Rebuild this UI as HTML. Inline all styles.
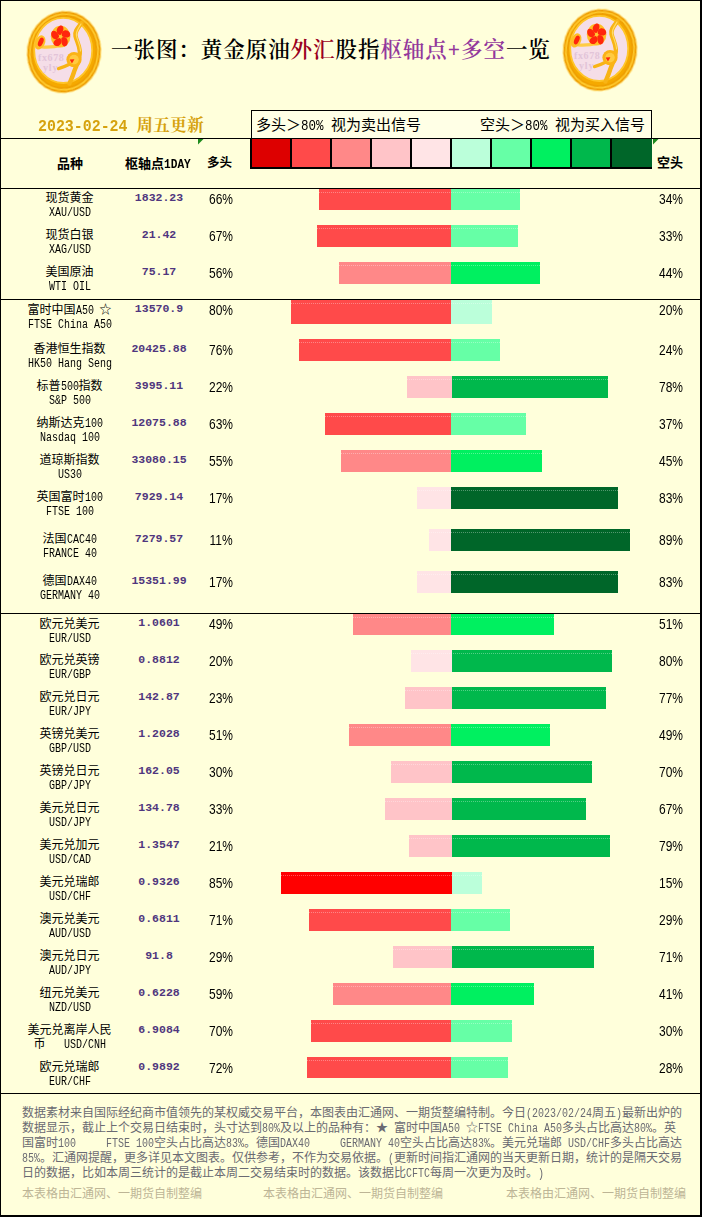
<!DOCTYPE html>
<html lang="zh-CN"><head><meta charset="utf-8"><title>一张图：黄金原油外汇股指枢轴点+多空一览</title>
<style>
html,body{margin:0;padding:0}
body{width:702px;height:1217px;position:relative;background:#FFFFDB;overflow:hidden;font-family:"Liberation Sans","Noto Sans CJK SC",sans-serif;color:#000}
div,span{box-sizing:border-box}
.a{position:absolute;white-space:nowrap}
.hl{position:absolute;left:0;width:702px;height:1px;background:#000}
.bar{position:absolute}
.dot{position:absolute;height:1px;background-image:repeating-linear-gradient(90deg,rgba(255,255,255,.32) 0 1px,transparent 1px 2px)}
.nm{position:absolute;left:0;width:139px;text-align:center;font:12px/12px "Liberation Mono","Noto Sans CJK SC",sans-serif;white-space:nowrap}
.L{display:inline-block;white-space:nowrap;text-align:left;vertical-align:baseline}
.L>span{display:inline-block;transform-origin:0 50%;font-family:"Liberation Mono",monospace;white-space:pre}
.en{position:absolute;left:0;width:139px;text-align:center;font:12px/12px "Liberation Mono","Noto Sans CJK SC",monospace;white-space:nowrap}
.pv{position:absolute;left:109px;width:100px;text-align:center;font:bold 11.5px/12px "Liberation Mono",monospace;color:#4F367E;white-space:nowrap}
.pc{position:absolute;width:60px;text-align:center;font:15px/16px "Liberation Sans",sans-serif;transform:scaleX(.8);white-space:nowrap}
.ft{position:absolute;left:22px;font:12px/14.5px "Liberation Mono","Noto Sans CJK SC",sans-serif;color:#6A6A72;white-space:nowrap;transform-origin:0 0}
.ft2{position:absolute;font:12px/14px "Liberation Mono","Noto Sans CJK SC",sans-serif;color:#BDB596;white-space:nowrap}
</style></head>
<body>
<div class="hl" style="top:138px"></div>
<div class="hl" style="top:188px"></div>
<div class="hl" style="top:299px"></div>
<div class="hl" style="top:613px"></div>
<div class="hl" style="top:1093px"></div>
<div class="a" style="left:0;top:0;width:702px;height:1px;background:#000"></div>
<div class="a" style="left:0;top:0;width:1px;height:1217px;background:#000"></div>
<div class="a" style="left:700px;top:0;width:2px;height:1217px;background:#000"></div>
<div class="a" style="left:0;top:1215px;width:702px;height:2px;background:#000"></div>
<svg class="a" style="left:22px;top:6.4px" width="84" height="92" viewBox="-42 -46 84 92">
<defs><filter id="b64" x="-10%" y="-10%" width="120%" height="120%"><feGaussianBlur stdDeviation="0.7"/></filter></defs>
<g filter="url(#b64)" transform="rotate(8)">
<ellipse cx="0" cy="0" rx="37.5" ry="41.5" fill="#FFE27A"/>
<ellipse cx="0" cy="0" rx="36.5" ry="40.5" fill="#EE9E00"/>
<ellipse cx="0" cy="0" rx="34" ry="38" fill="none" stroke="#FFCB2E" stroke-width="1.6"/>
<ellipse cx="0" cy="0" rx="31.5" ry="35.5" fill="#F5A906"/>
</g>
<g filter="url(#b64)">
<ellipse cx="-0.8" cy="-1.6" rx="29" ry="32.6" fill="#F5DEE8"/>
<ellipse cx="-0.8" cy="-1.6" rx="29" ry="32.6" fill="none" stroke="#FFC62A" stroke-width="1.8"/>
<path d="M17.5 -29 C14 -24 10.5 -21 11.5 -16 C12.5 -11 15 -8 15.8 -1 C16.5 7 12 14 10 20 C8.5 25 7 28 5.5 31.5" fill="none" stroke="#F8B414" stroke-width="4.4" stroke-linecap="round"/>
<path d="M17 -28 C14 -23 11.5 -20 12.5 -16 C13.5 -11 16 -8 16.6 -1" fill="none" stroke="#FFDC66" stroke-width="1.2" stroke-linecap="round"/>
<path d="M-5.5 16.6 C-1 15.5 2 14 6 12" fill="none" stroke="#F8B414" stroke-width="3.2" stroke-linecap="round"/>
<path d="M-22 -5 C-16 -4.5 -9 -5 -1 -7" fill="none" stroke="#FFCC44" stroke-width="3.2" stroke-linecap="round"/>
<ellipse cx="-3.4" cy="-15.4" rx="9.8" ry="10.9" fill="#FFBE28"/>
<g fill="#FF260A" transform="translate(-3.4 -15.4) scale(0.8 0.9)"><path d="M-0.3 -1.6 C-6 -2.6 -6.6 -10 -1.6 -11 C3.2 -11.6 4.6 -5.6 -0.3 -1.6Z" transform="rotate(-80) scale(1.1) skewX(-12)"/><path d="M-0.3 -1.6 C-6 -2.6 -6.6 -10 -1.6 -11 C3.2 -11.6 4.6 -5.6 -0.3 -1.6Z" transform="rotate(-8) scale(1.1) skewX(-12)"/><path d="M-0.3 -1.6 C-6 -2.6 -6.6 -10 -1.6 -11 C3.2 -11.6 4.6 -5.6 -0.3 -1.6Z" transform="rotate(64) scale(1.1) skewX(-12)"/><path d="M-0.3 -1.6 C-6 -2.6 -6.6 -10 -1.6 -11 C3.2 -11.6 4.6 -5.6 -0.3 -1.6Z" transform="rotate(136) scale(1.1) skewX(-12)"/><path d="M-0.3 -1.6 C-6 -2.6 -6.6 -10 -1.6 -11 C3.2 -11.6 4.6 -5.6 -0.3 -1.6Z" transform="rotate(208) scale(1.1) skewX(-12)"/></g>
<circle cx="-3.4" cy="-15.4" r="1.5" fill="#FFC83C"/>
<ellipse cx="-23.8" cy="-9.4" rx="5" ry="7.4" fill="#FFBE28" transform="rotate(24 -23.4 -10)"/>
<ellipse cx="-23.2" cy="-10" rx="2.4" ry="4.6" fill="#FF260A" transform="rotate(24 -23.2 -10)"/>
<circle cx="10" cy="7.6" r="7.6" fill="#FBB313"/>
<circle cx="10" cy="7.6" r="4.8" fill="#FFCB40"/>
<path d="M5.6 7.4 L10.4 7.2 L8 11.6 Z" fill="#FF260A"/>
</g>
<text x="-26" y="9" font-family="Liberation Serif,serif" font-weight="bold" font-size="10" fill="#E2C4D8" letter-spacing="0.6">fx678</text>
<text x="-21" y="18.5" font-family="Liberation Serif,serif" font-weight="bold" font-size="10" fill="#E2C4D8" letter-spacing="0.8">yly</text>
</svg>
<svg class="a" style="left:558px;top:4.4px" width="84" height="92" viewBox="-42 -46 84 92">
<defs><filter id="b600" x="-10%" y="-10%" width="120%" height="120%"><feGaussianBlur stdDeviation="0.7"/></filter></defs>
<g filter="url(#b600)" transform="rotate(8)">
<ellipse cx="0" cy="0" rx="37.5" ry="41.5" fill="#FFE27A"/>
<ellipse cx="0" cy="0" rx="36.5" ry="40.5" fill="#EE9E00"/>
<ellipse cx="0" cy="0" rx="34" ry="38" fill="none" stroke="#FFCB2E" stroke-width="1.6"/>
<ellipse cx="0" cy="0" rx="31.5" ry="35.5" fill="#F5A906"/>
</g>
<g filter="url(#b600)">
<ellipse cx="-0.8" cy="-1.6" rx="29" ry="32.6" fill="#F5DEE8"/>
<ellipse cx="-0.8" cy="-1.6" rx="29" ry="32.6" fill="none" stroke="#FFC62A" stroke-width="1.8"/>
<path d="M17.5 -29 C14 -24 10.5 -21 11.5 -16 C12.5 -11 15 -8 15.8 -1 C16.5 7 12 14 10 20 C8.5 25 7 28 5.5 31.5" fill="none" stroke="#F8B414" stroke-width="4.4" stroke-linecap="round"/>
<path d="M17 -28 C14 -23 11.5 -20 12.5 -16 C13.5 -11 16 -8 16.6 -1" fill="none" stroke="#FFDC66" stroke-width="1.2" stroke-linecap="round"/>
<path d="M-5.5 16.6 C-1 15.5 2 14 6 12" fill="none" stroke="#F8B414" stroke-width="3.2" stroke-linecap="round"/>
<path d="M-22 -5 C-16 -4.5 -9 -5 -1 -7" fill="none" stroke="#FFCC44" stroke-width="3.2" stroke-linecap="round"/>
<ellipse cx="-3.4" cy="-15.4" rx="9.8" ry="10.9" fill="#FFBE28"/>
<g fill="#FF260A" transform="translate(-3.4 -15.4) scale(0.8 0.9)"><path d="M-0.3 -1.6 C-6 -2.6 -6.6 -10 -1.6 -11 C3.2 -11.6 4.6 -5.6 -0.3 -1.6Z" transform="rotate(-80) scale(1.1) skewX(-12)"/><path d="M-0.3 -1.6 C-6 -2.6 -6.6 -10 -1.6 -11 C3.2 -11.6 4.6 -5.6 -0.3 -1.6Z" transform="rotate(-8) scale(1.1) skewX(-12)"/><path d="M-0.3 -1.6 C-6 -2.6 -6.6 -10 -1.6 -11 C3.2 -11.6 4.6 -5.6 -0.3 -1.6Z" transform="rotate(64) scale(1.1) skewX(-12)"/><path d="M-0.3 -1.6 C-6 -2.6 -6.6 -10 -1.6 -11 C3.2 -11.6 4.6 -5.6 -0.3 -1.6Z" transform="rotate(136) scale(1.1) skewX(-12)"/><path d="M-0.3 -1.6 C-6 -2.6 -6.6 -10 -1.6 -11 C3.2 -11.6 4.6 -5.6 -0.3 -1.6Z" transform="rotate(208) scale(1.1) skewX(-12)"/></g>
<circle cx="-3.4" cy="-15.4" r="1.5" fill="#FFC83C"/>
<ellipse cx="-23.8" cy="-9.4" rx="5" ry="7.4" fill="#FFBE28" transform="rotate(24 -23.4 -10)"/>
<ellipse cx="-23.2" cy="-10" rx="2.4" ry="4.6" fill="#FF260A" transform="rotate(24 -23.2 -10)"/>
<circle cx="10" cy="7.6" r="7.6" fill="#FBB313"/>
<circle cx="10" cy="7.6" r="4.8" fill="#FFCB40"/>
<path d="M5.6 7.4 L10.4 7.2 L8 11.6 Z" fill="#FF260A"/>
</g>
<text x="-26" y="9" font-family="Liberation Serif,serif" font-weight="bold" font-size="10" fill="#E2C4D8" letter-spacing="0.6">fx678</text>
<text x="-21" y="18.5" font-family="Liberation Serif,serif" font-weight="bold" font-size="10" fill="#E2C4D8" letter-spacing="0.8">yly</text>
</svg>
<div class="a" style="left:111px;top:33.5px;font:600 21.5px/32px 'Liberation Serif','Noto Serif CJK SC',serif;letter-spacing:0.95px" id="title">一张图：黄金原油<span style="color:#9A0020">外汇</span>股指<span style="color:#93389C">枢轴点+多空</span>一览</div>
<div class="a" id="date" style="left:38px;top:116px;font:bold 16.5px/22px 'Liberation Mono','Noto Serif CJK SC',serif;color:#D6A20E"><span class="L" style="width:98.45px"><span style="font-size:17px;transform:scaleX(0.8775);font-weight:bold">2023-02-24 </span></span><span style="letter-spacing:.4px">周五更新</span></div>
<div class="a" style="left:251px;top:110px;width:401px;height:29px;border:1px solid #000;background:#FFFFE6"></div>
<div class="a" id="lg1" style="left:256px;top:116px;font:15px/18px 'Liberation Sans','Noto Sans CJK SC',sans-serif">多头＞<span class="L" style="width:30px"><span style="font-size:14px;transform:scaleX(0.8929);">80% </span></span>视为卖出信号</div>
<div class="a" id="lg2" style="left:480px;top:116px;font:15px/18px 'Liberation Sans','Noto Sans CJK SC',sans-serif">空头＞<span class="L" style="width:30px"><span style="font-size:14px;transform:scaleX(0.8929);">80% </span></span>视为买入信号</div>
<div class="a" style="left:250px;top:138px;width:402px;height:31px;background:#000"></div>
<div class="a" style="left:252px;top:139px;width:38px;height:28px;background:#DD0000"></div>
<div class="a" style="left:292px;top:139px;width:38px;height:28px;background:#FF4A4A"></div>
<div class="a" style="left:332px;top:139px;width:38px;height:28px;background:#FF8888"></div>
<div class="a" style="left:372px;top:139px;width:38px;height:28px;background:#FFC4C8"></div>
<div class="a" style="left:412px;top:139px;width:38px;height:28px;background:#FFE4E6"></div>
<div class="a" style="left:452px;top:139px;width:38px;height:28px;background:#BBFFDA"></div>
<div class="a" style="left:492px;top:139px;width:38px;height:28px;background:#66FFA6"></div>
<div class="a" style="left:532px;top:139px;width:38px;height:28px;background:#00F060"></div>
<div class="a" style="left:572px;top:139px;width:38px;height:28px;background:#00B84C"></div>
<div class="a" style="left:612px;top:139px;width:40px;height:28px;background:#006629"></div>
<svg class="a" style="left:198px;top:139px" width="7" height="7"><path d="M0 0H5.5L0 5.5Z" fill="#1E8B1E"/></svg>
<svg class="a" style="left:653px;top:139px" width="7" height="7"><path d="M0 0H5.5L0 5.5Z" fill="#1E8B1E"/></svg>
<div class="a" id="h1" style="left:57px;top:157px;font:bold 13px/14px 'Liberation Serif','Noto Sans CJK SC',sans-serif">品种</div>
<div class="a" id="h2" style="left:125px;top:157px;font:bold 13px/14px 'Liberation Serif','Noto Sans CJK SC',sans-serif">枢轴点<span class="L" style="width:26.8px"><span style="font-size:13px;transform:scaleX(0.8590);font-weight:bold">1DAY</span></span></div>
<div class="a" id="h3" style="left:207px;top:156px;font:bold 12.5px/14px 'Liberation Sans','Noto Sans CJK SC',sans-serif">多头</div>
<div class="a" id="h4" style="left:657px;top:156px;font:bold 13px/14px 'Liberation Serif','Noto Sans CJK SC',sans-serif">空头</div>
<div class="bar" style="left:319px;top:189px;width:132px;height:21px;background:#FF4A4A"></div><div class="bar" style="left:451px;top:189px;width:69px;height:21px;background:#66FFA6"></div><div class="dot" style="left:319px;top:192px;width:201px"></div>
<div class="nm" style="top:193px">现货黄金</div><div class="en" style="top:207px"><span class="L" style="width:42px"><span style="font-size:13px;transform:scaleX(0.7692);">XAU/USD</span></span></div><div class="pv" style="top:192px">1832.23</div><div class="pc" style="left:190.5px;top:191px">66%</div><div class="pc" style="left:641px;top:191px">34%</div>
<div class="bar" style="left:317px;top:225px;width:134px;height:22px;background:#FF4A4A"></div><div class="bar" style="left:451px;top:225px;width:67px;height:22px;background:#66FFA6"></div><div class="dot" style="left:317px;top:228px;width:201px"></div>
<div class="nm" style="top:230px">现货白银</div><div class="en" style="top:244px"><span class="L" style="width:42px"><span style="font-size:13px;transform:scaleX(0.7692);">XAG/USD</span></span></div><div class="pv" style="top:229px">21.42</div><div class="pc" style="left:190.5px;top:228px">67%</div><div class="pc" style="left:641px;top:228px">33%</div>
<div class="bar" style="left:339px;top:262px;width:112px;height:22px;background:#FF8888"></div><div class="bar" style="left:451px;top:262px;width:89px;height:22px;background:#00F060"></div><div class="dot" style="left:339px;top:265px;width:201px"></div>
<div class="nm" style="top:267px">美国原油</div><div class="en" style="top:281px"><span class="L" style="width:42px"><span style="font-size:13px;transform:scaleX(0.7692);">WTI OIL</span></span></div><div class="pv" style="top:266px">75.17</div><div class="pc" style="left:190.5px;top:265px">56%</div><div class="pc" style="left:641px;top:265px">44%</div>
<div class="bar" style="left:291px;top:300px;width:160px;height:24px;background:#FF4A4A"></div><div class="bar" style="left:451px;top:300px;width:41px;height:24px;background:#BBFFDA"></div><div class="dot" style="left:291px;top:303px;width:201px"></div>
<div class="nm" style="top:305px">富时中国<span class="L" style="width:24px"><span style="font-size:13px;transform:scaleX(0.7692);">A50 </span></span>☆</div><div class="en" style="top:319px"><span class="L" style="width:84px"><span style="font-size:13px;transform:scaleX(0.7692);">FTSE China A50</span></span></div><div class="pv" style="top:303px">13570.9</div><div class="pc" style="left:190.5px;top:302px">80%</div><div class="pc" style="left:641px;top:302px">20%</div>
<div class="bar" style="left:299px;top:339px;width:152px;height:22px;background:#FF4A4A"></div><div class="bar" style="left:451px;top:339px;width:49px;height:22px;background:#66FFA6"></div><div class="dot" style="left:299px;top:342px;width:201px"></div>
<div class="nm" style="top:344px">香港恒生指数</div><div class="en" style="top:358px"><span class="L" style="width:84px"><span style="font-size:13px;transform:scaleX(0.7692);">HK50 Hang Seng</span></span></div><div class="pv" style="top:343px">20425.88</div><div class="pc" style="left:190.5px;top:342px">76%</div><div class="pc" style="left:641px;top:342px">24%</div>
<div class="bar" style="left:407px;top:376px;width:45px;height:22px;background:#FFC4C8"></div><div class="bar" style="left:452px;top:376px;width:156px;height:22px;background:#00B84C"></div><div class="dot" style="left:407px;top:379px;width:201px"></div>
<div class="nm" style="top:381px">标普<span class="L" style="width:18px"><span style="font-size:13px;transform:scaleX(0.7692);">500</span></span>指数</div><div class="en" style="top:395px"><span class="L" style="width:42px"><span style="font-size:13px;transform:scaleX(0.7692);">S&amp;P 500</span></span></div><div class="pv" style="top:380px">3995.11</div><div class="pc" style="left:190.5px;top:379px">22%</div><div class="pc" style="left:641px;top:379px">78%</div>
<div class="bar" style="left:325px;top:413px;width:126px;height:22px;background:#FF4A4A"></div><div class="bar" style="left:451px;top:413px;width:75px;height:22px;background:#66FFA6"></div><div class="dot" style="left:325px;top:416px;width:201px"></div>
<div class="nm" style="top:418px">纳斯达克<span class="L" style="width:18px"><span style="font-size:13px;transform:scaleX(0.7692);">100</span></span></div><div class="en" style="top:432px"><span class="L" style="width:60px"><span style="font-size:13px;transform:scaleX(0.7692);">Nasdaq 100</span></span></div><div class="pv" style="top:417px">12075.88</div><div class="pc" style="left:190.5px;top:416px">63%</div><div class="pc" style="left:641px;top:416px">37%</div>
<div class="bar" style="left:341px;top:450px;width:110px;height:22px;background:#FF8888"></div><div class="bar" style="left:451px;top:450px;width:91px;height:22px;background:#00F060"></div><div class="dot" style="left:341px;top:453px;width:201px"></div>
<div class="nm" style="top:455px">道琼斯指数</div><div class="en" style="top:469px"><span class="L" style="width:24px"><span style="font-size:13px;transform:scaleX(0.7692);">US30</span></span></div><div class="pv" style="top:454px">33080.15</div><div class="pc" style="left:190.5px;top:453px">55%</div><div class="pc" style="left:641px;top:453px">45%</div>
<div class="bar" style="left:417px;top:487px;width:34px;height:22px;background:#FFE4E6"></div><div class="bar" style="left:451px;top:487px;width:167px;height:22px;background:#006629"></div><div class="dot" style="left:417px;top:490px;width:201px"></div>
<div class="nm" style="top:492px">英国富时<span class="L" style="width:18px"><span style="font-size:13px;transform:scaleX(0.7692);">100</span></span></div><div class="en" style="top:506px"><span class="L" style="width:48px"><span style="font-size:13px;transform:scaleX(0.7692);">FTSE 100</span></span></div><div class="pv" style="top:491px">7929.14</div><div class="pc" style="left:190.5px;top:490px">17%</div><div class="pc" style="left:641px;top:490px">83%</div>
<div class="bar" style="left:429px;top:529px;width:22px;height:22px;background:#FFE4E6"></div><div class="bar" style="left:451px;top:529px;width:179px;height:22px;background:#006629"></div><div class="dot" style="left:429px;top:532px;width:201px"></div>
<div class="nm" style="top:534px">法国<span class="L" style="width:30px"><span style="font-size:13px;transform:scaleX(0.7692);">CAC40</span></span></div><div class="en" style="top:548px"><span class="L" style="width:54px"><span style="font-size:13px;transform:scaleX(0.7692);">FRANCE 40</span></span></div><div class="pv" style="top:533px">7279.57</div><div class="pc" style="left:190.5px;top:532px">11%</div><div class="pc" style="left:641px;top:532px">89%</div>
<div class="bar" style="left:417px;top:571px;width:34px;height:22px;background:#FFE4E6"></div><div class="bar" style="left:451px;top:571px;width:167px;height:22px;background:#006629"></div><div class="dot" style="left:417px;top:574px;width:201px"></div>
<div class="nm" style="top:576px">德国<span class="L" style="width:30px"><span style="font-size:13px;transform:scaleX(0.7692);">DAX40</span></span></div><div class="en" style="top:590px"><span class="L" style="width:60px"><span style="font-size:13px;transform:scaleX(0.7692);">GERMANY 40</span></span></div><div class="pv" style="top:575px">15351.99</div><div class="pc" style="left:190.5px;top:574px">17%</div><div class="pc" style="left:641px;top:574px">83%</div>
<div class="bar" style="left:353px;top:614px;width:98px;height:21px;background:#FF8888"></div><div class="bar" style="left:451px;top:614px;width:103px;height:21px;background:#00F060"></div><div class="dot" style="left:353px;top:617px;width:201px"></div>
<div class="nm" style="top:619px">欧元兑美元</div><div class="en" style="top:633px"><span class="L" style="width:42px"><span style="font-size:13px;transform:scaleX(0.7692);">EUR/USD</span></span></div><div class="pv" style="top:617px">1.0601</div><div class="pc" style="left:190.5px;top:616px">49%</div><div class="pc" style="left:641px;top:616px">51%</div>
<div class="bar" style="left:411px;top:650px;width:41px;height:22px;background:#FFE4E6"></div><div class="bar" style="left:452px;top:650px;width:160px;height:22px;background:#00B84C"></div><div class="dot" style="left:411px;top:653px;width:201px"></div>
<div class="nm" style="top:655px">欧元兑英镑</div><div class="en" style="top:669px"><span class="L" style="width:42px"><span style="font-size:13px;transform:scaleX(0.7692);">EUR/GBP</span></span></div><div class="pv" style="top:654px">0.8812</div><div class="pc" style="left:190.5px;top:653px">20%</div><div class="pc" style="left:641px;top:653px">80%</div>
<div class="bar" style="left:405px;top:687px;width:47px;height:22px;background:#FFC4C8"></div><div class="bar" style="left:452px;top:687px;width:154px;height:22px;background:#00B84C"></div><div class="dot" style="left:405px;top:690px;width:201px"></div>
<div class="nm" style="top:692px">欧元兑日元</div><div class="en" style="top:706px"><span class="L" style="width:42px"><span style="font-size:13px;transform:scaleX(0.7692);">EUR/JPY</span></span></div><div class="pv" style="top:691px">142.87</div><div class="pc" style="left:190.5px;top:690px">23%</div><div class="pc" style="left:641px;top:690px">77%</div>
<div class="bar" style="left:349px;top:724px;width:102px;height:22px;background:#FF8888"></div><div class="bar" style="left:451px;top:724px;width:99px;height:22px;background:#00F060"></div><div class="dot" style="left:349px;top:727px;width:201px"></div>
<div class="nm" style="top:729px">英镑兑美元</div><div class="en" style="top:743px"><span class="L" style="width:42px"><span style="font-size:13px;transform:scaleX(0.7692);">GBP/USD</span></span></div><div class="pv" style="top:728px">1.2028</div><div class="pc" style="left:190.5px;top:727px">51%</div><div class="pc" style="left:641px;top:727px">49%</div>
<div class="bar" style="left:391px;top:761px;width:61px;height:22px;background:#FFC4C8"></div><div class="bar" style="left:452px;top:761px;width:140px;height:22px;background:#00B84C"></div><div class="dot" style="left:391px;top:764px;width:201px"></div>
<div class="nm" style="top:766px">英镑兑日元</div><div class="en" style="top:780px"><span class="L" style="width:42px"><span style="font-size:13px;transform:scaleX(0.7692);">GBP/JPY</span></span></div><div class="pv" style="top:765px">162.05</div><div class="pc" style="left:190.5px;top:764px">30%</div><div class="pc" style="left:641px;top:764px">70%</div>
<div class="bar" style="left:385px;top:798px;width:67px;height:22px;background:#FFC4C8"></div><div class="bar" style="left:452px;top:798px;width:134px;height:22px;background:#00B84C"></div><div class="dot" style="left:385px;top:801px;width:201px"></div>
<div class="nm" style="top:803px">美元兑日元</div><div class="en" style="top:817px"><span class="L" style="width:42px"><span style="font-size:13px;transform:scaleX(0.7692);">USD/JPY</span></span></div><div class="pv" style="top:802px">134.78</div><div class="pc" style="left:190.5px;top:801px">33%</div><div class="pc" style="left:641px;top:801px">67%</div>
<div class="bar" style="left:409px;top:835px;width:43px;height:22px;background:#FFC4C8"></div><div class="bar" style="left:452px;top:835px;width:158px;height:22px;background:#00B84C"></div><div class="dot" style="left:409px;top:838px;width:201px"></div>
<div class="nm" style="top:840px">美元兑加元</div><div class="en" style="top:854px"><span class="L" style="width:42px"><span style="font-size:13px;transform:scaleX(0.7692);">USD/CAD</span></span></div><div class="pv" style="top:839px">1.3547</div><div class="pc" style="left:190.5px;top:838px">21%</div><div class="pc" style="left:641px;top:838px">79%</div>
<div class="bar" style="left:281px;top:872px;width:171px;height:22px;background:#FF0000"></div><div class="bar" style="left:452px;top:872px;width:30px;height:22px;background:#BBFFDA"></div><div class="dot" style="left:281px;top:875px;width:201px"></div>
<div class="nm" style="top:877px">美元兑瑞郎</div><div class="en" style="top:891px"><span class="L" style="width:42px"><span style="font-size:13px;transform:scaleX(0.7692);">USD/CHF</span></span></div><div class="pv" style="top:876px">0.9326</div><div class="pc" style="left:190.5px;top:875px">85%</div><div class="pc" style="left:641px;top:875px">15%</div>
<div class="bar" style="left:309px;top:909px;width:142px;height:22px;background:#FF4A4A"></div><div class="bar" style="left:451px;top:909px;width:59px;height:22px;background:#66FFA6"></div><div class="dot" style="left:309px;top:912px;width:201px"></div>
<div class="nm" style="top:914px">澳元兑美元</div><div class="en" style="top:928px"><span class="L" style="width:42px"><span style="font-size:13px;transform:scaleX(0.7692);">AUD/USD</span></span></div><div class="pv" style="top:913px">0.6811</div><div class="pc" style="left:190.5px;top:912px">71%</div><div class="pc" style="left:641px;top:912px">29%</div>
<div class="bar" style="left:393px;top:946px;width:59px;height:22px;background:#FFC4C8"></div><div class="bar" style="left:452px;top:946px;width:142px;height:22px;background:#00B84C"></div><div class="dot" style="left:393px;top:949px;width:201px"></div>
<div class="nm" style="top:951px">澳元兑日元</div><div class="en" style="top:965px"><span class="L" style="width:42px"><span style="font-size:13px;transform:scaleX(0.7692);">AUD/JPY</span></span></div><div class="pv" style="top:950px">91.8</div><div class="pc" style="left:190.5px;top:949px">29%</div><div class="pc" style="left:641px;top:949px">71%</div>
<div class="bar" style="left:333px;top:983px;width:118px;height:22px;background:#FF8888"></div><div class="bar" style="left:451px;top:983px;width:83px;height:22px;background:#00F060"></div><div class="dot" style="left:333px;top:986px;width:201px"></div>
<div class="nm" style="top:988px">纽元兑美元</div><div class="en" style="top:1002px"><span class="L" style="width:42px"><span style="font-size:13px;transform:scaleX(0.7692);">NZD/USD</span></span></div><div class="pv" style="top:987px">0.6228</div><div class="pc" style="left:190.5px;top:986px">59%</div><div class="pc" style="left:641px;top:986px">41%</div>
<div class="bar" style="left:311px;top:1020px;width:140px;height:22px;background:#FF4A4A"></div><div class="bar" style="left:451px;top:1020px;width:61px;height:22px;background:#66FFA6"></div><div class="dot" style="left:311px;top:1023px;width:201px"></div>
<div class="nm" style="top:1025px">美元兑离岸人民</div><div class="en" style="top:1039px">币<span class="L" style="width:60px"><span style="font-size:13px;transform:scaleX(0.7692);">&nbsp;&nbsp;&nbsp;USD/CNH</span></span></div><div class="pv" style="top:1024px">6.9084</div><div class="pc" style="left:190.5px;top:1023px">70%</div><div class="pc" style="left:641px;top:1023px">30%</div>
<div class="bar" style="left:307px;top:1057px;width:144px;height:21px;background:#FF4A4A"></div><div class="bar" style="left:451px;top:1057px;width:57px;height:21px;background:#66FFA6"></div><div class="dot" style="left:307px;top:1060px;width:201px"></div>
<div class="nm" style="top:1062px">欧元兑瑞郎</div><div class="en" style="top:1076px"><span class="L" style="width:42px"><span style="font-size:13px;transform:scaleX(0.7692);">EUR/CHF</span></span></div><div class="pv" style="top:1061px">0.9892</div><div class="pc" style="left:190.5px;top:1060px">72%</div><div class="pc" style="left:641px;top:1060px">28%</div>
<div class="ft" id="ft0" style="top:1107px;">数据素材来自国际经纪商市值领先的某权威交易平台，本图表由汇通网、一期货整编特制。今日<span class="L" style="width:66px"><span style="font-size:13px;transform:scaleX(0.7692);">(2023/02/24</span></span>周五<span class="L" style="width:6px"><span style="font-size:13px;transform:scaleX(0.7692);">)</span></span>最新出炉的</div>
<div class="ft" id="ft1" style="top:1122px;">数据显示，截止上个交易日结束时，头寸达到<span class="L" style="width:18px"><span style="font-size:13px;transform:scaleX(0.7692);">80%</span></span>及以上的品种有：★<span class="L" style="width:6px"><span style="font-size:13px;transform:scaleX(0.7692);"> </span></span>富时中国<span class="L" style="width:24px"><span style="font-size:13px;transform:scaleX(0.7692);">A50 </span></span>☆<span class="L" style="width:84px"><span style="font-size:13px;transform:scaleX(0.7692);">FTSE China A50</span></span>多头占比高达<span class="L" style="width:18px"><span style="font-size:13px;transform:scaleX(0.7692);">80%</span></span>。英</div>
<div class="ft" id="ft2" style="top:1137px;">国富时<span class="L" style="width:96px"><span style="font-size:13px;transform:scaleX(0.7692);">100&nbsp;&nbsp;&nbsp;&nbsp;&nbsp;FTSE 100</span></span>空头占比高达<span class="L" style="width:18px"><span style="font-size:13px;transform:scaleX(0.7692);">83%</span></span>。德国<span class="L" style="width:120px"><span style="font-size:13px;transform:scaleX(0.7692);">DAX40&nbsp;&nbsp;&nbsp;&nbsp;&nbsp;GERMANY 40</span></span>空头占比高达<span class="L" style="width:18px"><span style="font-size:13px;transform:scaleX(0.7692);">83%</span></span>。美元兑瑞郎<span class="L" style="width:48px"><span style="font-size:13px;transform:scaleX(0.7692);"> USD/CHF</span></span>多头占比高达</div>
<div class="ft" id="ft3" style="top:1152px;"><span class="L" style="width:18px"><span style="font-size:13px;transform:scaleX(0.7692);">85%</span></span>。汇通网提醒，更多详见本文图表。仅供参考，不作为交易依据。<span class="L" style="width:6px"><span style="font-size:13px;transform:scaleX(0.7692);">(</span></span>更新时间指汇通网的当天更新日期，统计的是隔天交易</div>
<div class="ft" id="ft4" style="top:1167px;">日的数据，比如本周三统计的是截止本周二交易结束时的数据。该数据比<span class="L" style="width:24px"><span style="font-size:13px;transform:scaleX(0.7692);">CFTC</span></span>每周一次更为及时。<span class="L" style="width:6px"><span style="font-size:13px;transform:scaleX(0.7692);">)</span></span></div>
<div class="ft2" style="left:22px;top:1188px">本表格由汇通网、一期货自制整编</div>
<div class="ft2" style="left:263px;top:1188px">本表格由汇通网、一期货自制整编</div>
<div class="ft2" style="left:506px;top:1188px">本表格由汇通网、一期货自制整编</div>
</body></html>
